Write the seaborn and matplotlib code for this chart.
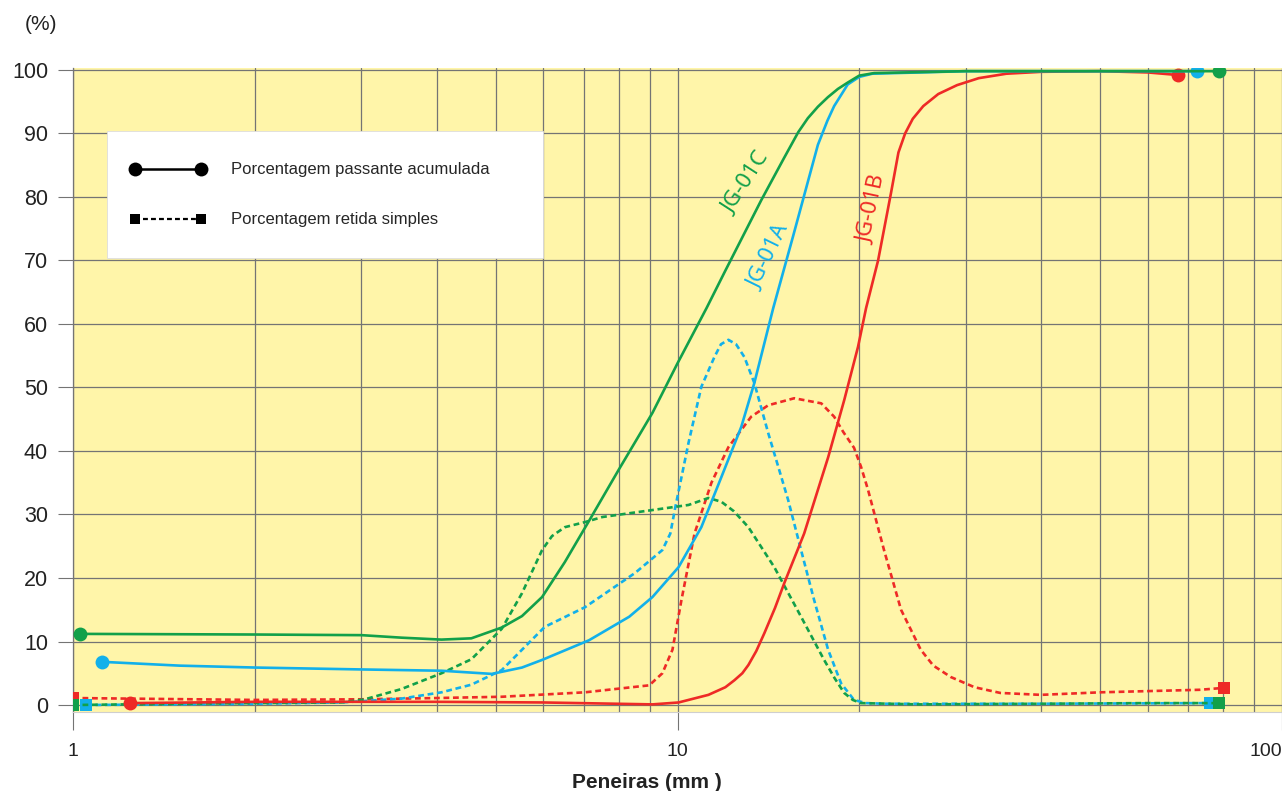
import numpy as np
import pandas as pd
import matplotlib
matplotlib.use("Agg")
import matplotlib.pyplot as plt
import seaborn as sns
from matplotlib.lines import Line2D
from matplotlib.patches import Rectangle
from matplotlib.ticker import LogLocator, NullFormatter, FixedLocator

# sieve size (mm) / percentage
green_pass_x = [1.027, 2.0, 3.0, 3.5, 4.07, 4.56, 5.12, 5.53, 5.97, 6.51, 7.14, 8.0, 9.09, 10.0,
                11.17, 12.0, 13.76, 15.0, 15.84, 16.43, 17.07, 17.73, 18.42, 19.12, 19.98, 21.15,
                30.0, 50.0, 78.7]
green_pass_y = [11.2, 11.1, 11.0, 10.6, 10.3, 10.5, 12.2, 14.0, 17.0, 22.5, 29.0, 37.1, 46.0, 53.8,
                62.5, 68.4, 79.5, 86.1, 90.2, 92.4, 94.2, 95.7, 97.0, 98.0, 99.1, 99.5,
                99.8, 99.8, 99.8]

blue_pass_x = [1.117, 1.5, 2.0, 3.0, 4.07, 4.93, 5.53, 5.97, 7.14, 8.32, 9.09, 10.04, 10.95, 11.82,
               12.75, 13.40, 14.40, 15.53, 17.07, 17.70, 18.16, 19.12, 19.98, 21.0, 30.0, 50.0, 72.4]
blue_pass_y = [6.8, 6.2, 5.9, 5.6, 5.4, 4.9, 5.9, 7.1, 10.2, 13.9, 17.0, 21.7, 28.0, 35.9,
               43.8, 50.7, 62.5, 73.8, 88.2, 92.0, 94.3, 97.7, 98.9, 99.4, 99.8, 99.8, 99.8]

red_pass_x = [1.243, 2.0, 4.0, 6.0, 9.09, 10.04, 11.25, 12.0, 12.42, 12.8, 13.10, 13.5, 13.92,
              14.5, 15.02, 16.20, 17.75, 18.87, 19.89, 20.51, 21.47, 22.55, 23.2, 23.8, 24.5,
              25.5, 27.0, 29.0, 31.5, 35.0, 40.0, 50.0, 60.0, 67.2]
red_pass_y = [0.3, 0.5, 0.5, 0.4, 0.1, 0.4, 1.6, 2.8, 3.9, 5.0, 6.3, 8.5, 11.3,
              15.3, 19.2, 27.0, 39.0, 48.0, 56.4, 62.5, 70.0, 80.6, 87.0, 90.0, 92.3,
              94.3, 96.2, 97.6, 98.7, 99.4, 99.7, 99.8, 99.6, 99.2]

green_ret_x = [1.0, 1.5, 2.0, 2.78, 3.04, 3.49, 4.07, 4.56, 5.12, 5.53, 5.97, 6.2, 6.51, 7.03,
               7.51, 9.09, 10.43, 11.25, 11.82, 12.4, 13.10, 14.46, 16.01, 17.48, 18.2, 18.87,
               19.5, 20.12, 25.0, 40.0, 60.0, 78.7]
green_ret_y = [0.0, 0.2, 0.3, 0.4, 0.9, 2.5, 5.0, 7.2, 12.0, 17.6, 24.4, 26.6, 28.0, 28.8,
               29.6, 30.7, 31.5, 32.6, 32.0, 30.5, 28.0, 21.7, 13.9, 7.1, 4.2, 1.9,
               0.8, 0.3, 0.1, 0.2, 0.3, 0.3]

blue_ret_x = [1.051, 2.0, 2.78, 3.49, 4.07, 4.56, 5.12, 5.53, 6.03, 7.03, 8.51, 9.44, 9.73, 9.92,
              10.43, 10.95, 11.51, 11.8, 12.14, 12.5, 12.90, 13.40, 14.13, 15.24, 16.01, 16.83,
              17.75, 18.65, 19.59, 20.5, 22.0, 40.0, 76.1]
blue_ret_y = [0.0, 0.2, 0.4, 1.0, 2.0, 3.2, 5.5, 8.7, 12.3, 15.4, 20.8, 24.4, 27.0, 31.2,
              41.3, 50.1, 54.8, 56.8, 57.5, 56.8, 54.8, 50.7, 42.8, 32.3, 24.4, 16.5,
              8.7, 3.4, 0.8, 0.3, 0.2, 0.2, 0.3]

red_ret_x = [1.0, 2.0, 3.0, 4.0, 5.12, 7.03, 8.98, 9.44, 9.81, 10.15, 10.67, 11.38, 12.14, 13.24,
             14.13, 15.60, 17.29, 18.16, 18.8, 19.59, 20.12, 20.66, 21.96, 23.43, 25.26, 26.5,
             28.33, 31.0, 34.2, 39.9, 50.1, 73.2, 80.2]
red_ret_y = [1.1, 0.8, 0.9, 1.1, 1.3, 2.0, 3.1, 5.0, 8.7, 16.5, 27.0, 35.0, 40.6, 45.4,
             47.2, 48.3, 47.5, 45.4, 43.0, 40.5, 37.5, 33.9, 24.4, 15.0, 8.7, 6.2,
             4.4, 2.8, 1.9, 1.6, 2.0, 2.4, 2.7]

y_ticks = list(range(0, 101, 10))
x_ticks = [1, 10, 100]
x_tick_labels = ["1", "10", "100"]
sample_names = ["JG-01C", "JG-01A", "JG-01B"]
legend_labels = ["Porcentagem passante acumulada", "Porcentagem retida simples"]

GREEN = "#12a04a"
BLUE = "#12b0ea"
RED = "#ee2a26"
YELLOW = "#fff5a9"
GRID = "#747474"

sns.set_theme(style="white")
plt.rcParams["font.family"] = ["Liberation Sans", "DejaVu Sans"]

fig = plt.figure(figsize=(12.82, 7.91), dpi=100)
ax = fig.add_axes([73 / 1282, 79 / 791, 1209 / 1282, 644 / 791])
ax.set_facecolor(YELLOW)

solid_kw = dict(linewidth=1.9, marker="o", markersize=10, markeredgewidth=0,
                markevery=[0, -1], zorder=3)
dash_kw = dict(linewidth=1.9, linestyle=(0, (2.2, 1.4)), marker="s", markersize=8,
               markeredgewidth=0, markevery=[0, -1], zorder=3)

sns.lineplot(x=red_ret_x, y=red_ret_y, ax=ax, color=RED, sort=False, **dash_kw)
sns.lineplot(x=blue_ret_x, y=blue_ret_y, ax=ax, color=BLUE, sort=False, **dash_kw)
sns.lineplot(x=green_ret_x, y=green_ret_y, ax=ax, color=GREEN, sort=False, **dash_kw)
sns.lineplot(x=red_pass_x, y=red_pass_y, ax=ax, color=RED, sort=False, **solid_kw)
sns.lineplot(x=blue_pass_x, y=blue_pass_y, ax=ax, color=BLUE, sort=False, **solid_kw)
sns.lineplot(x=green_pass_x, y=green_pass_y, ax=ax, color=GREEN, sort=False, **solid_kw)

ax.set_xscale("log")
ax.set_xlim(1, 100)
ax.set_ylim(-1.1, 100.3)

ax.xaxis.set_major_locator(FixedLocator(x_ticks))
ax.xaxis.set_minor_locator(LogLocator(base=10, subs=range(2, 10)))
ax.xaxis.set_minor_formatter(NullFormatter())
ax.set_xticklabels(x_tick_labels)
ax.set_yticks(y_ticks)

ax.grid(which="both", axis="x", color=GRID, linewidth=0.9)
ax.grid(which="major", axis="y", color=GRID, linewidth=0.9)
ax.set_axisbelow(True)

ax.tick_params(axis="y", which="major", direction="out", length=11, width=0.8, color=GRID,
               pad=7, labelsize=15.5, labelcolor="#222222", left=True)
ax.tick_params(axis="x", which="major", direction="out", length=13, width=0.8, color=GRID,
               pad=9, labelsize=14, labelcolor="#222222", bottom=True)
ax.tick_params(axis="x", which="minor", length=0)
ax.get_xticklabels()[-1].set_horizontalalignment("right")

for side in ["top", "right"]:
    ax.spines[side].set_visible(False)
ax.spines["left"].set_color(GRID)
ax.spines["left"].set_linewidth(0.9)
ax.spines["bottom"].set_color("#cfcfcf")
ax.spines["bottom"].set_linewidth(0.8)

ax.set_xlabel("Peneiras (mm )", fontsize=15, fontweight="bold", color="#222222", labelpad=4)
ax.xaxis.set_label_coords(0.475, -0.095)
fig.text(41 / 1282, 1 - 25 / 791, "(%)", fontsize=15, color="#222222", ha="center", va="center")

# curve names
name_font = ["Noto Sans", "DejaVu Sans"]
ax.text(12.99, 82.2, sample_names[0], color=GREEN, fontsize=16, rotation=57, family=name_font,
        ha="center", va="center", zorder=4)
ax.text(14.18, 70.6, sample_names[1], color=BLUE, fontsize=16, rotation=64, family=name_font,
        ha="center", va="center", zorder=4)
ax.text(21.06, 78.0, sample_names[2], color=RED, fontsize=16, rotation=78, family=name_font,
        ha="center", va="center", zorder=4)

# legend box
ax.add_patch(Rectangle((1.14, 70.4), 6.0 - 1.14, 20.0, facecolor="white",
                       edgecolor="#dddddd", linewidth=0.6, zorder=1.5))
handles = [
    Line2D([], [], color="black", linewidth=1.8, marker="o", markersize=10, markeredgewidth=0),
    Line2D([], [], color="black", linewidth=1.6, linestyle=(0, (2.2, 1.4)), marker="s",
           markersize=7, markeredgewidth=0),
]
leg = ax.legend(handles, legend_labels, loc="center left", bbox_to_anchor=(0.040, 0.803),
                frameon=False, numpoints=2, handlelength=4.6, handletextpad=1.5,
                labelspacing=2.1, borderpad=0,
                prop={"family": ["Liberation Sans"], "size": 12})
leg.set_zorder(5)

fig.savefig("out.png", dpi=100, facecolor="white")
